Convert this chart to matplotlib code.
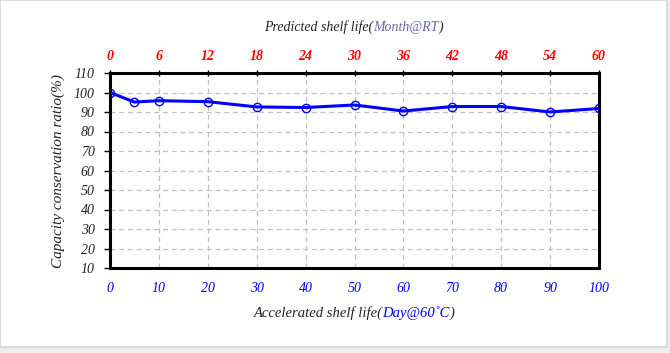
import matplotlib
matplotlib.use("Agg")
import matplotlib.pyplot as plt
from matplotlib.patches import Rectangle
from matplotlib.offsetbox import TextArea, HPacker, AnchoredOffsetbox

# data
days = [0, 5, 10, 20, 30, 40, 50, 60, 70, 80, 90, 100]
ratio = [100, 95.1, 95.8, 95.3, 92.6, 92.3, 93.6, 90.5, 92.8, 92.8, 90.0, 91.8]
bottom_ticks = [0, 10, 20, 30, 40, 50, 60, 70, 80, 90, 100]
top_labels = ["0", "6", "12", "18", "24", "30", "36", "42", "48", "54", "60"]
y_ticks = [10, 20, 30, 40, 50, 60, 70, 80, 90, 100, 110]

plt.rcParams['font.family'] = ['Liberation Serif', 'DejaVu Serif']

fig = plt.figure(figsize=(6.7, 3.53), dpi=100, facecolor="#eeeeee")
# white card with a light grey border
fig.patches.append(Rectangle((0, 1 - 347 / 353), 667 / 670, 347 / 353,
                             transform=fig.transFigure, facecolor="white",
                             edgecolor="#d4d4d4", linewidth=1.2, zorder=-10))

ax = fig.add_axes([110 / 670, 1 - 268 / 353, 489 / 670, 195 / 353])
ax.plot(days, ratio, color="#0000ff", linewidth=2.2, marker="o", markersize=6,
        markerfacecolor="none", markeredgecolor="#0000ff", markeredgewidth=1, zorder=3)

ax.set_xlim(0, 100)
ax.set_ylim(10, 110)
ax.set_xticks(bottom_ticks)
ax.set_yticks(y_ticks)
ax.grid(True, color="#c0c0c0", linestyle=(0, (4, 3)), linewidth=0.9)
for s in ax.spines.values():
    s.set_linewidth(2.2)
    s.set_color("black")

ax.tick_params(axis="x", which="both", length=0, pad=10, labelsize=10,
               labelcolor="#0000ff")
ax.tick_params(axis="y", length=4, width=1, direction="out", pad=7,
               labelsize=10, labelcolor="#222222")
for lab in ax.get_xticklabels() + ax.get_yticklabels():
    lab.set_fontstyle("italic")

top = ax.twiny()
top.set_xlim(0, 100)
top.set_xticks(bottom_ticks)
top.set_xticklabels(top_labels, fontstyle="italic", fontweight="bold", color="red", fontsize=10)
top.tick_params(axis="x", length=5, width=1, direction="inout", pad=5)

ax.set_ylabel("Capacity conservation ratio(%)", fontsize=11, fontstyle="italic",
              color="#222222", labelpad=6)


def two_color_label(parts, y, size):
    boxes = [TextArea(t, textprops=dict(color=c, fontsize=size, fontstyle="italic"))
             for t, c in parts]
    pack = HPacker(children=boxes, align="baseline", pad=0, sep=0)
    anc = AnchoredOffsetbox(loc="center", child=pack, pad=0, frameon=False,
                            bbox_to_anchor=(354 / 670, 1 - y / 353),
                            bbox_transform=fig.transFigure, borderpad=0)
    fig.add_artist(anc)


two_color_label([("Predicted shelf life(", "#222222"), ("Month@RT", "#6666aa"),
                 (")", "#222222")], 27, 10)
two_color_label([("Accelerated shelf life(", "#222222"), ("Day@60˚C", "#0000ff"),
                 (")", "#222222")], 313, 10.5)

fig.savefig("out.png", dpi=100, facecolor=fig.get_facecolor())
